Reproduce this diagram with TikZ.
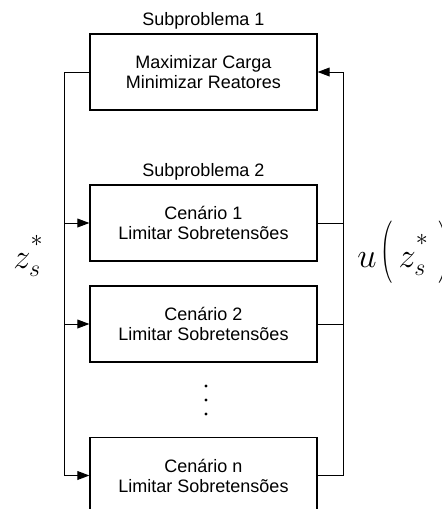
\documentclass[tikz,border=0pt]{standalone}
\usepackage{amsmath}
\usepackage{fontspec}
\setmainfont{Liberation Sans}
\usepackage{tikz}
\usetikzlibrary{arrows.meta,positioning}

\tikzset{
  stage/.style={draw, line width=0.6pt, rectangle, inner sep=0pt,
    minimum width=113.5pt, minimum height=38pt, align=center,
    font=\fontsize{9}{10}\selectfont},
  tag/.style={inner sep=0pt, font=\fontsize{9}{10}\selectfont},
  feed/.style={line width=0.5pt, -{Triangle[length=6pt,width=4.4pt]}},
  wire/.style={line width=0.5pt},
  buslabel/.style={anchor=base west, inner sep=0pt, font=\fontsize{17}{20}\selectfont}
}

\newcommand\hstar{\raisebox{4.5pt}{$\scriptstyle *$}}
\newcommand\tallparen[1]{\raisebox{3.25pt}{\scalebox{0.6}[1]{$\Big#1$}}}

\begin{document}
\begin{tikzpicture}[x=0.5pt, y=-0.5pt]

  \path[use as bounding box, clip] (0,0) rectangle (441,509);

  \newcommand\Xc{203.5}
  \newcommand\Y{101}

  % master problem and the scenario blocks
  \node[stage] (sub1) at (\Xc, 72) {Maximizar Carga\\Minimizar Reatores};
  \node[tag, above=2pt of sub1] (lbl1) {Subproblema 1};

  \node[stage] (cen1) at (\Xc, 223) {Cenário 1\\Limitar Sobretensões};
  \node[tag, above=2pt of cen1] (lbl2) {Subproblema 2};
  \node[stage] (cen2) at (\Xc, 223+\Y) {Cenário 2\\Limitar Sobretensões};
  \node[stage] (cenn) at (\Xc, 223+2.5*\Y) {Cenário n\\Limitar Sobretensões};

  \foreach \k in {0,1,2}
    \fill (206, 386+14*\k) circle (1.6);

  % left and right buses
  \coordinate (lbus) at (64, 0);
  \coordinate (rbus) at (343, 0);

  \draw[feed] (sub1.west) -| (lbus |- cenn.west) -- (cenn.west); % sub1 -> n
  \draw[feed] (lbus |- cen1.west) -- (cen1.west); % -> 1
  \draw[feed] (lbus |- cen2.west) -- (cen2.west); % -> 2

  \draw[feed] (cenn.east) -| (rbus |- sub1.east) -- (sub1.east); % n -> sub1
  \draw[wire] (cen1.east) -- (rbus |- cen1.east); % 1 ->
  \draw[wire] (cen2.east) -- (rbus |- cen2.east); % 2 ->

  % bus labels
  \node[buslabel] (zs) at (13, 268) {$z_s^{\hstar}$};
  \node[buslabel] (uz) at (357, 267)
    {$u\mskip2mu\tallparen(\mskip3mu z_s^{\hstar}\mskip5mu\tallparen)$};

\end{tikzpicture}
\end{document}
